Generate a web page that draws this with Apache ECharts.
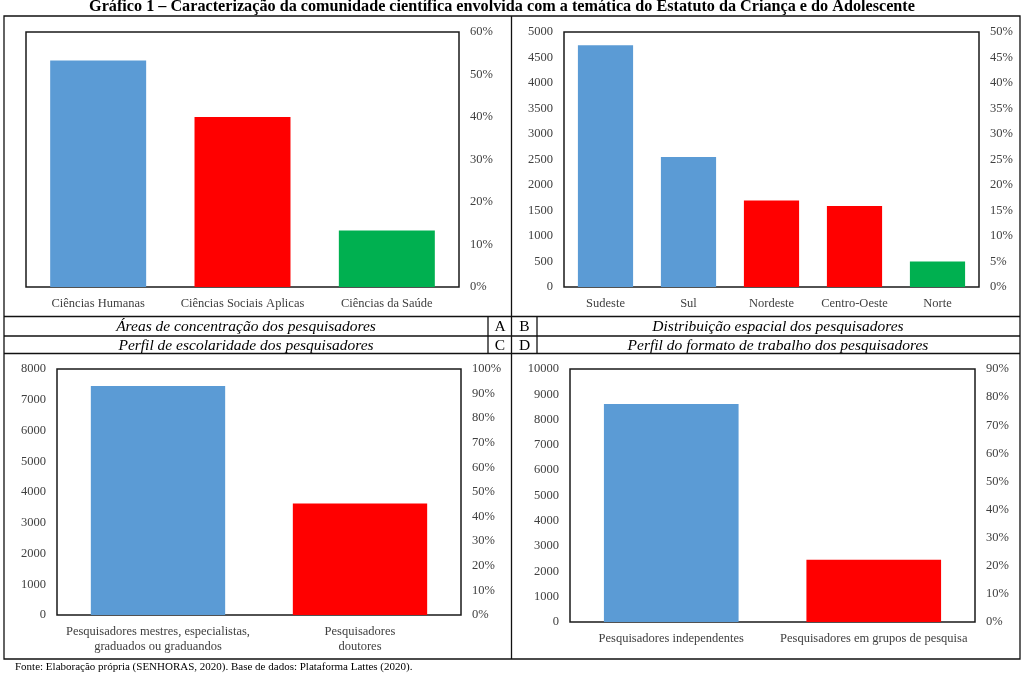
<!DOCTYPE html>
<html><head><meta charset="utf-8">
<script src="https://cdn.jsdelivr.net/npm/echarts@6/dist/echarts.min.js"></script>
<style>html,body{margin:0;padding:0;background:#fff}#c{width:1024px;height:676px}</style>
</head><body><div id="c"></div>
<script>
// ---- Data ----
const titleText = 'Gráfico 1 – Caracterização da comunidade científica envolvida com a temática do Estatuto da Criança e do Adolescente';
const footerText = 'Fonte: Elaboração própria (SENHORAS, 2020). Base de dados: Plataforma Lattes (2020).';

const catsA = ['Ciências Humanas', 'Ciências Sociais Aplicas', 'Ciências da Saúde'];
const valsA = [53.3, 40.0, 13.3]; // percent
const colorsA = ['#5B9BD5', '#FF0000', '#00B050'];

const catsB = ['Sudeste', 'Sul', 'Nordeste', 'Centro-Oeste', 'Norte'];
const valsB = [4740, 2550, 1695, 1590, 500];
const colorsB = ['#5B9BD5', '#5B9BD5', '#FF0000', '#FF0000', '#00B050'];

const catsC = ['Pesquisadores mestres, especialistas,\ngraduados ou graduandos', 'Pesquisadores\ndoutores'];
const valsC = [7450, 3625];
const colorsC = ['#5B9BD5', '#FF0000'];

const catsD = ['Pesquisadores independentes', 'Pesquisadores em grupos de pesquisa'];
const valsD = [8615, 2460];
const colorsD = ['#5B9BD5', '#FF0000'];

const captionA = 'Áreas de concentração dos pesquisadores';
const captionB = 'Distribuição espacial dos pesquisadores';
const captionC = 'Perfil de escolaridade dos pesquisadores';
const captionD = 'Perfil do formato de trabalho dos pesquisadores';

// ---- Styles ----
const FONT = '"Liberation Serif", "DejaVu Serif", serif';
const LBL = '#404040';
const FS = 12.5;
const grids = [
  {left: 26, top: 32, width: 433, height: 255},
  {left: 564, top: 32, width: 415, height: 255},
  {left: 57, top: 369, width: 404, height: 246},
  {left: 570, top: 369, width: 405, height: 253}
].map(g => Object.assign({show: true, borderColor: '#1a1a1a', borderWidth: 1.5, backgroundColor: 'transparent'}, g));

function xAx(gi, cats, lh) {
  return {type: 'category', gridIndex: gi, data: cats,
    axisLine: {show: false}, axisTick: {show: false},
    axisLabel: {color: LBL, fontFamily: FONT, fontSize: FS, margin: 9, interval: 0, lineHeight: lh || 15}};
}
function yAx(gi, pos, min, max, interval, pct) {
  return {type: 'value', gridIndex: gi, position: pos, min: min, max: max, interval: interval,
    splitLine: {show: false}, axisLine: {show: false}, axisTick: {show: false},
    axisLabel: {color: LBL, fontFamily: FONT, fontSize: FS, margin: 11,
      formatter: pct ? (v => v + '%') : (v => String(v))}};
}
function barSeries(xi, yi, vals, colors) {
  return {type: 'bar', xAxisIndex: xi, yAxisIndex: yi, barCategoryGap: '33.5%',
    data: vals.map((v, i) => ({value: v, itemStyle: {color: colors[i]}})), silent: true};
}

const L = (x1, y1, x2, y2) => ({type: 'line', shape: {x1, y1, x2, y2}, style: {stroke: '#111', lineWidth: 1.3}, silent: true});
const T = (x, y, text, opts) => ({type: 'text', x, y, silent: true,
  style: Object.assign({text, fill: '#000', font: 'italic 15.5px ' + FONT, textAlign: 'center', textVerticalAlign: 'middle'}, opts || {})});

const option = {
  animation: false,
  grid: grids,
  xAxis: [xAx(0, catsA), xAx(1, catsB), xAx(2, catsC, 15), xAx(3, catsD)],
  yAxis: [
    yAx(0, 'right', 0, 60, 10, true),
    yAx(1, 'left', 0, 5000, 500, false),
    yAx(1, 'right', 0, 50, 5, true),
    yAx(2, 'left', 0, 8000, 1000, false),
    yAx(2, 'right', 0, 100, 10, true),
    yAx(3, 'left', 0, 10000, 1000, false),
    yAx(3, 'right', 0, 90, 10, true)
  ],
  series: [
    barSeries(0, 0, valsA, colorsA),
    barSeries(1, 1, valsB, colorsB),
    barSeries(2, 3, valsC, colorsC),
    barSeries(3, 5, valsD, colorsD)
  ],
  graphic: [
    T(502, 6.5, titleText, {font: 'bold 16.2px ' + FONT}),
    {type: 'rect', shape: {x: 4, y: 16, width: 1016, height: 643}, style: {fill: 'none', stroke: '#111', lineWidth: 1.3}, silent: true},
    L(511.5, 16, 511.5, 659),
    L(4, 316.5, 1020, 316.5),
    L(4, 336, 1020, 336),
    L(4, 353.5, 1020, 353.5),
    L(488, 316.5, 488, 353.5),
    L(537, 316.5, 537, 353.5),
    T(246, 327, captionA),
    T(246, 345.5, captionC),
    T(778, 327, captionB),
    T(778, 345.5, captionD),
    T(500, 327, 'A', {font: '15.5px ' + FONT}),
    T(500, 345.5, 'C', {font: '15.5px ' + FONT}),
    T(524.5, 327, 'B', {font: '15.5px ' + FONT}),
    T(524.5, 345.5, 'D', {font: '15.5px ' + FONT}),
    T(15, 667.5, footerText, {font: '11px ' + FONT, textAlign: 'left'})
  ]
};
echarts.init(document.getElementById('c'), null, {renderer: 'canvas'}).setOption(option);
</script>
</body></html>
